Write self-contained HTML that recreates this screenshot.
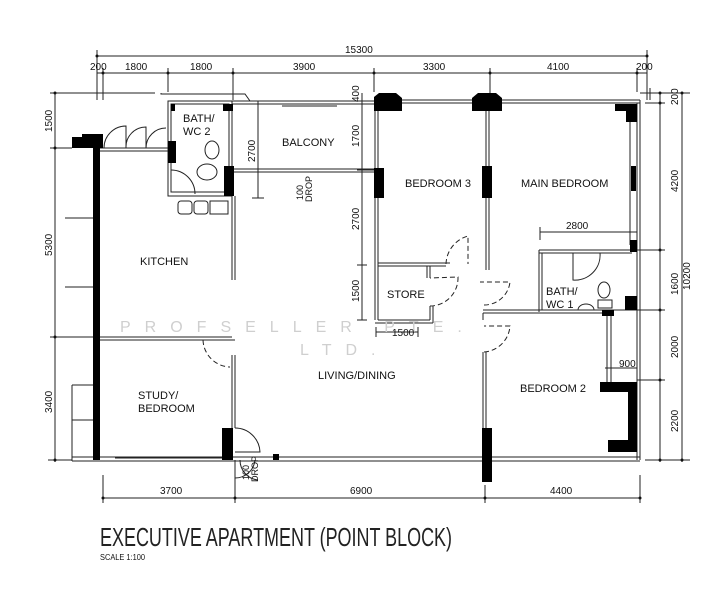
<!DOCTYPE html>
<html><head><meta charset="utf-8"><style>
html,body{margin:0;padding:0;background:#fff;}
svg{display:block;}
text{font-family:"Liberation Sans",sans-serif;fill:#111;}
</style></head><body>
<svg width="709" height="600" viewBox="0 0 709 600" xmlns="http://www.w3.org/2000/svg">
<g stroke="#222" stroke-width="1" fill="none">
<line x1="97" y1="56" x2="647" y2="56"/>
<line x1="97" y1="50" x2="97" y2="100"/><line x1="647" y1="50" x2="647" y2="100"/>
<line x1="97" y1="73" x2="647" y2="73"/>
<line x1="103" y1="68" x2="103" y2="100"/><line x1="168" y1="68" x2="168" y2="92"/>
<line x1="233" y1="68" x2="233" y2="100"/><line x1="374" y1="68" x2="374" y2="92"/>
<line x1="490" y1="68" x2="490" y2="96"/><line x1="637" y1="68" x2="637" y2="92"/>
<polyline points="161,93 161,94 245,94 250,101"/>
<line x1="55" y1="92" x2="55" y2="462"/>
<line x1="50" y1="93" x2="155" y2="93"/>
<line x1="50" y1="148" x2="72" y2="148"/>
<line x1="50" y1="337" x2="100" y2="337"/>
<line x1="48" y1="460" x2="72" y2="460"/>
<line x1="65" y1="218" x2="93" y2="218"/><line x1="65" y1="287" x2="93" y2="287"/>
<line x1="660" y1="93" x2="660" y2="462"/>
<line x1="682" y1="93" x2="682" y2="462"/>
<line x1="640" y1="93" x2="690" y2="93"/>
<line x1="645" y1="103" x2="665" y2="103"/>
<line x1="637" y1="250" x2="665" y2="250"/>
<line x1="637" y1="310" x2="665" y2="310"/>
<line x1="637" y1="380" x2="665" y2="380"/>
<line x1="645" y1="460" x2="690" y2="460"/>
<line x1="650" y1="88" x2="650" y2="100"/>
<line x1="103" y1="498" x2="640" y2="498"/>
<line x1="103" y1="475" x2="103" y2="503"/><line x1="235" y1="475" x2="235" y2="503"/>
<line x1="485" y1="485" x2="485" y2="503"/><line x1="640" y1="475" x2="640" y2="503"/>
<line x1="258" y1="101" x2="258" y2="198"/>
<line x1="252" y1="101" x2="264" y2="101"/><line x1="252" y1="198" x2="264" y2="198"/>
<line x1="362" y1="93" x2="362" y2="320"/>
<line x1="357" y1="101" x2="375" y2="101"/><line x1="357" y1="170" x2="375" y2="170"/>
<line x1="357" y1="265" x2="367" y2="265"/><line x1="357" y1="320" x2="367" y2="320"/>
<line x1="376" y1="332" x2="418" y2="332"/><line x1="376" y1="327" x2="376" y2="337"/><line x1="418" y1="327" x2="418" y2="337"/>
<line x1="540" y1="232" x2="637" y2="232"/><line x1="540" y1="227" x2="540" y2="240"/>
<line x1="605" y1="368" x2="637" y2="368"/><line x1="637" y1="364" x2="637" y2="372"/>
</g>
<g fill="#111">
<circle cx="97" cy="56" r="1.5"/><circle cx="647" cy="56" r="1.5"/>
<circle cx="103" cy="73" r="1.5"/><circle cx="168" cy="73" r="1.5"/><circle cx="233" cy="73" r="1.5"/><circle cx="374" cy="73" r="1.5"/><circle cx="490" cy="73" r="1.5"/><circle cx="637" cy="73" r="1.5"/>
<circle cx="55" cy="93" r="1.5"/><circle cx="55" cy="148" r="1.5"/><circle cx="55" cy="337" r="1.5"/><circle cx="55" cy="460" r="1.5"/>
<circle cx="660" cy="93" r="1.5"/><circle cx="660" cy="103" r="1.5"/><circle cx="660" cy="250" r="1.5"/><circle cx="660" cy="310" r="1.5"/><circle cx="660" cy="380" r="1.5"/><circle cx="660" cy="460" r="1.5"/>
<circle cx="682" cy="93" r="1.5"/><circle cx="682" cy="460" r="1.5"/>
<circle cx="103" cy="498" r="1.5"/><circle cx="235" cy="498" r="1.5"/><circle cx="485" cy="498" r="1.5"/><circle cx="640" cy="498" r="1.5"/>
</g>
<g stroke="#222" stroke-width="1" fill="none">
<rect x="168" y="101" width="64" height="95"/><rect x="171" y="104" width="58" height="88"/>
<line x1="100" y1="148" x2="168" y2="148"/><line x1="100" y1="151" x2="168" y2="151"/>
<path d="M104 148 A22 22 0 0 1 126 126 L126 148"/><path d="M126 148 A20 20 0 0 1 146 127 L146 148"/><path d="M146 148 A20 20 0 0 1 166 128"/>
<line x1="232" y1="101" x2="375" y2="101"/><line x1="232" y1="104" x2="375" y2="104"/>
<line x1="282" y1="106" x2="337" y2="106"/>
<line x1="232" y1="169" x2="375" y2="169"/><line x1="232" y1="172" x2="375" y2="172"/>
<line x1="232" y1="172" x2="232" y2="280"/><line x1="235" y1="196" x2="235" y2="280"/>
<line x1="375" y1="100" x2="640" y2="100"/><line x1="375" y1="103" x2="640" y2="103"/>
<line x1="375" y1="101" x2="375" y2="320"/><line x1="378" y1="104" x2="378" y2="320"/>
<line x1="378" y1="263" x2="450" y2="263"/><line x1="378" y1="266" x2="446" y2="266"/>
<line x1="486" y1="104" x2="486" y2="270"/><line x1="489" y1="104" x2="489" y2="270"/>
<line x1="378" y1="320" x2="430" y2="320"/><line x1="375" y1="323" x2="433" y2="323"/>
<line x1="430" y1="320" x2="430" y2="306"/><line x1="433" y1="323" x2="433" y2="306"/>
<line x1="427" y1="266" x2="427" y2="278"/><line x1="430" y1="266" x2="430" y2="278"/>
<line x1="637" y1="103" x2="637" y2="460"/><line x1="640" y1="100" x2="640" y2="460"/>
<line x1="630" y1="120" x2="630" y2="245"/>
<line x1="539" y1="250" x2="637" y2="250"/><line x1="539" y1="253" x2="632" y2="253"/>
<line x1="539" y1="250" x2="539" y2="312"/><line x1="542" y1="253" x2="542" y2="310"/>
<line x1="483" y1="310" x2="637" y2="310"/><line x1="483" y1="313" x2="607" y2="313"/>
<path d="M573 253 L573 280 A25 25 0 0 0 600 253"/>
<ellipse cx="604" cy="290" rx="6" ry="8"/><rect x="598" y="300" width="14" height="8"/>
<path d="M578 310 a8 6 0 0 1 16 0"/>
<line x1="483" y1="313" x2="483" y2="320"/>
<line x1="483" y1="352" x2="483" y2="460"/><line x1="486" y1="352" x2="486" y2="460"/>
<line x1="607" y1="313" x2="607" y2="382"/><line x1="611" y1="313" x2="611" y2="382"/>
<line x1="72" y1="457" x2="640" y2="457"/><line x1="72" y1="461" x2="640" y2="461"/>
<line x1="115" y1="458" x2="222" y2="458"/>
<line x1="72" y1="385" x2="72" y2="461"/><line x1="72" y1="385" x2="93" y2="385"/><line x1="72" y1="420" x2="93" y2="420"/>
<line x1="100" y1="337" x2="232" y2="337"/><line x1="100" y1="340" x2="235" y2="340"/>
<line x1="232" y1="355" x2="232" y2="428"/><line x1="235" y1="355" x2="235" y2="428"/>
<ellipse cx="212" cy="150" rx="7" ry="9"/><ellipse cx="207" cy="172" rx="10" ry="8"/>
<path d="M171 170 A24 24 0 0 1 195 194"/>
<rect x="178" y="201" width="14" height="13" rx="3"/><rect x="194" y="201" width="14" height="13" rx="3"/><rect x="210" y="201" width="18" height="13"/>
</g>
<g stroke="#222" stroke-width="1" fill="none" stroke-dasharray="5,3">
<path d="M203 340 A28 28 0 0 0 230 367"/><line x1="203" y1="340" x2="232" y2="340"/>
<path d="M446 264 A30 30 0 0 1 468 236 L468 264"/>
<path d="M430 306 A28 28 0 0 0 458 277 L430 278"/>
<path d="M484 305 A26 26 0 0 0 510 282 L480 282"/>
<path d="M484 352 A28 28 0 0 0 510 326 L484 326"/>
</g>
<g stroke="#222" stroke-width="1" fill="none">
<path d="M235 428 A25 25 0 0 1 260 452 L235 452"/><path d="M235 478 A20 20 0 0 0 255 460"/><path d="M258 480 A20 20 0 0 1 240 460"/>
<line x1="235" y1="460" x2="235" y2="478"/>
</g>
<g fill="#000">
<rect x="93" y="138" width="7" height="322"/>
<rect x="72" y="137" width="31" height="11"/><rect x="82" y="134" width="21" height="4"/>
<rect x="171" y="104" width="4" height="7"/><rect x="223" y="104" width="10" height="7"/>
<rect x="168" y="141" width="8" height="22"/>
<rect x="224" y="166" width="10" height="30"/>
<rect x="374" y="168" width="10" height="30"/>
<polygon points="374,97 379,93 396,93 402,98 402,111 374,111"/>
<polygon points="472,98 478,93 496,93 502,98 502,111 472,111"/>
<rect x="482" y="166" width="10" height="32"/>
<rect x="615" y="104" width="22" height="7"/><rect x="626" y="104" width="11" height="18"/>
<rect x="631" y="166" width="5" height="25"/>
<rect x="630" y="240" width="7" height="12"/>
<rect x="625" y="296" width="12" height="14"/><rect x="602" y="310" width="12" height="6"/>
<polygon points="600,382 637,382 637,452 608,452 608,440 628,440 628,392 600,392"/>
<rect x="222" y="428" width="11" height="32"/>
<rect x="273" y="454" width="6" height="6"/>
<rect x="482" y="428" width="10" height="54"/>
</g>
<text x="120" y="332" font-size="16" style="fill:#cfcfcf" letter-spacing="14">PROFSELLER PTE.</text>
<text x="300" y="355" font-size="16" style="fill:#cfcfcf" letter-spacing="14">LTD.</text>
<g font-size="10">
<text x="345" y="53">15300</text>
<text x="90" y="70">200</text><text x="125" y="70">1800</text><text x="190" y="70">1800</text>
<text x="293" y="70">3900</text><text x="423" y="70">3300</text><text x="547" y="70">4100</text><text x="636" y="70">200</text>
<text x="160" y="494">3700</text><text x="350" y="494">6900</text><text x="550" y="494">4400</text>
<text x="566" y="229">2800</text><text x="392" y="336">1500</text><text x="619" y="367">900</text>
</g>
<g font-size="10">
<text transform="translate(52,132) rotate(-90)">1500</text>
<text transform="translate(52,256) rotate(-90)">5300</text>
<text transform="translate(52,413) rotate(-90)">3400</text>
<text transform="translate(255,162) rotate(-90)">2700</text>
<text transform="translate(359,102) rotate(-90)">400</text>
<text transform="translate(359,147) rotate(-90)">1700</text>
<text transform="translate(359,230) rotate(-90)">2700</text>
<text transform="translate(359,302) rotate(-90)">1500</text>
<text transform="translate(678,105) rotate(-90)">200</text>
<text transform="translate(678,192) rotate(-90)">4200</text>
<text transform="translate(678,295) rotate(-90)">1600</text>
<text transform="translate(678,358) rotate(-90)">2000</text>
<text transform="translate(678,432) rotate(-90)">2200</text>
<text transform="translate(690,290) rotate(-90)">10200</text>
<text transform="translate(303,200) rotate(-90)" font-size="9">100</text>
<text transform="translate(312,202) rotate(-90)" font-size="9">DROP</text>
<text transform="translate(249,480) rotate(-90)" font-size="9">100</text>
<text transform="translate(258,482) rotate(-90)" font-size="9">DROP</text>
</g>
<g font-size="11">
<text x="183" y="122">BATH/</text><text x="183" y="135">WC 2</text>
<text x="282" y="146">BALCONY</text>
<text x="405" y="187">BEDROOM 3</text>
<text x="521" y="187">MAIN BEDROOM</text>
<text x="140" y="265">KITCHEN</text>
<text x="387" y="298">STORE</text>
<text x="546" y="295">BATH/</text><text x="546" y="308">WC 1</text>
<text x="318" y="379">LIVING/DINING</text>
<text x="138" y="399">STUDY/</text><text x="138" y="412">BEDROOM</text>
<text x="520" y="392">BEDROOM 2</text>
</g>
<text x="100" y="546" font-size="26" textLength="352" lengthAdjust="spacingAndGlyphs" style="fill:#222">EXECUTIVE APARTMENT (POINT BLOCK)</text>
<text x="100" y="560" font-size="8" textLength="45" lengthAdjust="spacingAndGlyphs">SCALE  1:100</text>
</svg>
</body></html>
